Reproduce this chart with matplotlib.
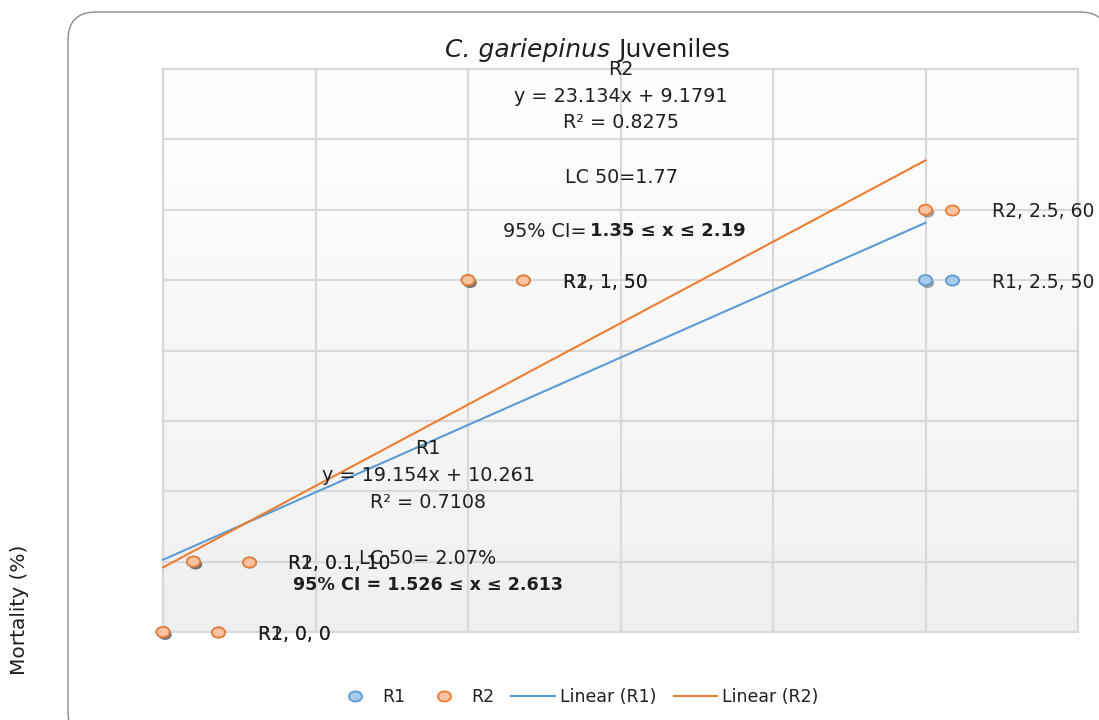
import numpy as np
import matplotlib
matplotlib.use("Agg")
import matplotlib.pyplot as plt
from matplotlib.path import Path
from matplotlib.patches import FancyBboxPatch
from matplotlib.transforms import ScaledTranslation, IdentityTransform
from matplotlib.lines import Line2D
import matplotlib.patheffects as pe

plt.rcParams['font.family'] = ['DejaVu Sans']

# ---- data ----
r1_x = [0, 0.1, 1, 2.5]
r1_y = [0, 10, 50, 50]
r2_x = [0, 0.1, 1, 2.5]
r2_y = [0, 10, 50, 60]
series_names = ["R1", "R2"]
title_italic = "C. gariepinus"
title_rest = "Juveniles"
ylabel = "Mortality (%)"
r1_lc50 = "LC 50= 2.07%"
r1_ci = "95% CI = 1.526 \u2264 x \u2264 2.613"
r2_lc50 = "LC 50=1.77"
r2_ci_lead = "95% CI="
r2_ci_bold = "1.35 \u2264 x \u2264 2.19"

# label key offsets (pixels) for each data point
key_dx = [55, 55, 55, 26]

BLUE = "#5b9bd5"
BLUE_F = "#a9cbeb"
ORANGE = "#ed7d31"
ORANGE_F = "#f8c4a3"
TXT = "#1f1f1f"

fig = plt.figure(figsize=(10.99, 7.2), dpi=100)
W, H = 1099, 720

# chart frame
frame = FancyBboxPatch((68, -20), 1040, 728, boxstyle="round,pad=0,rounding_size=28",
                       transform=IdentityTransform(), facecolor="white",
                       edgecolor="#8c8c8c", linewidth=1.0, zorder=-5)
fig.patches.append(frame)

ax = fig.add_axes([163 / W, 1 - 632 / H, (1078 - 163) / W, (632 - 69) / H])
ax.set_zorder(1)
ax.patch.set_alpha(0)

# gradient background
grad = np.linspace(0.94, 1.0, 256).reshape(-1, 1)
ax.imshow(np.dstack([grad, grad, grad]), extent=[0, 1, 0, 1], transform=ax.transAxes,
          aspect="auto", origin="lower", zorder=0, interpolation="bilinear")
ax.set_xlim(0, 3)
ax.set_ylim(0, 80)

ax.set_xticks(np.arange(0, 3.01, 0.5))
ax.set_yticks(np.arange(0, 80.1, 10))
ax.grid(True, color="#d9d9d9", linewidth=1.6, zorder=1)
ax.set_axisbelow(False)
ax.tick_params(length=0, labelbottom=False, labelleft=False)
for s in ax.spines.values():
    s.set_color("#d9d9d9")
    s.set_linewidth(1.6)

# ellipse marker
circ = Path.unit_circle()
ell = Path(circ.vertices * np.array([1.3, 1.0]), circ.codes)

shadow = [pe.SimplePatchShadow(offset=(1.5, -2.0), shadow_rgbFace="#555555", alpha=0.55), pe.Normal()]

series = [(r1_x, r1_y, BLUE, BLUE_F, "R1"), (r2_x, r2_y, ORANGE, ORANGE_F, "R2")]

# trendlines
for xs, ys, ec, fc, name in series:
    k, b = np.polyfit(xs, ys, 1)
    xx = np.array([min(xs), max(xs)])
    ax.plot(xx, k * xx + b, color=ec, lw=1.5, zorder=3, clip_on=False)

# points, label keys, labels
for xs, ys, ec, fc, name in series:
    ax.plot(xs, ys, linestyle="none", marker=ell, markersize=9.5, markerfacecolor=fc,
            markeredgecolor=ec, markeredgewidth=1.3, zorder=5, clip_on=False,
            path_effects=shadow)
    for i, (x, y) in enumerate(zip(xs, ys)):
        tr = ax.transData + ScaledTranslation(key_dx[i] / 100, 0, fig.dpi_scale_trans)
        ax.plot([x], [y], transform=tr, linestyle="none", marker=ell, markersize=9.5,
                markerfacecolor=fc, markeredgecolor=ec, markeredgewidth=1.3, zorder=5,
                clip_on=False)
        lab = f"{name}, {x:g}, {y:g}"
        ax.annotate(lab, xy=(x, y), xytext=(key_dx[i] + 40, 0), textcoords="offset pixels",
                    ha="left", va="center_baseline", fontsize=13.5, color=TXT, zorder=6,
                    annotation_clip=False)

# trendline label R2
fs = 13.8
ax.text(1.502, 80.2, "R2", ha="center", va="center_baseline", fontsize=fs, color=TXT, zorder=6)
ax.text(1.502, 76.4, "y = 23.134x + 9.1791", ha="center", va="center_baseline", fontsize=fs, color=TXT, zorder=6)
ax.text(1.502, 72.7, "R\u00b2 = 0.8275", ha="center", va="center_baseline", fontsize=fs, color=TXT, zorder=6)
ax.text(1.502, 64.9, r2_lc50, ha="center", va="center_baseline", fontsize=fs, color=TXT, zorder=6)
ax.text(1.387, 57.2, r2_ci_lead, ha="right", va="center_baseline", fontsize=fs, color=TXT, zorder=6)
ax.text(1.400, 57.2, r2_ci_bold, ha="left", va="center_baseline", fontsize=13, color=TXT,
        fontweight="bold", zorder=6)

# trendline label R1
ax.text(0.869, 26.3, "R1", ha="center", va="center_baseline", fontsize=fs, color=TXT, zorder=6)
ax.text(0.869, 22.5, "y = 19.154x + 10.261", ha="center", va="center_baseline", fontsize=fs, color=TXT, zorder=6)
ax.text(0.869, 18.7, "R\u00b2 = 0.7108", ha="center", va="center_baseline", fontsize=fs, color=TXT, zorder=6)
ax.text(0.869, 10.7, r1_lc50, ha="center", va="center_baseline", fontsize=fs, color=TXT, zorder=6)
ax.text(0.869, 7.0, r1_ci, ha="center", va="center_baseline", fontsize=12.6, color=TXT,
        fontweight="bold", zorder=6)

# title
fig.text(610 / W, 1 - 48 / H, title_italic, ha="right", va="center_baseline", fontsize=18,
         style="italic", color=TXT)
fig.text(618 / W, 1 - 48 / H, title_rest, ha="left", va="center_baseline", fontsize=18, color=TXT)

# y label
fig.text(20 / W, 1 - 610 / H, ylabel, rotation=90, ha="center", va="center", fontsize=14.5, color=TXT)

# legend
handles = [
    Line2D([], [], linestyle="none", marker=ell, markersize=9.5, markerfacecolor=BLUE_F,
           markeredgecolor=BLUE, markeredgewidth=1.3),
    Line2D([], [], linestyle="none", marker=ell, markersize=9.5, markerfacecolor=ORANGE_F,
           markeredgecolor=ORANGE, markeredgewidth=1.3),
    Line2D([], [], color=BLUE, lw=1.5),
    Line2D([], [], color=ORANGE, lw=1.5),
]
labels = ["R1", "R2", "Linear (R1)", "Linear (R2)"]
fig.legend(handles, labels, loc="center", bbox_to_anchor=(576 / W, 1 - 697 / H), ncol=4,
           frameon=False, fontsize=12.5, handlelength=2.5, handletextpad=0.3, columnspacing=1.0,
           labelcolor=TXT)

fig.savefig("out.png", dpi=100)
